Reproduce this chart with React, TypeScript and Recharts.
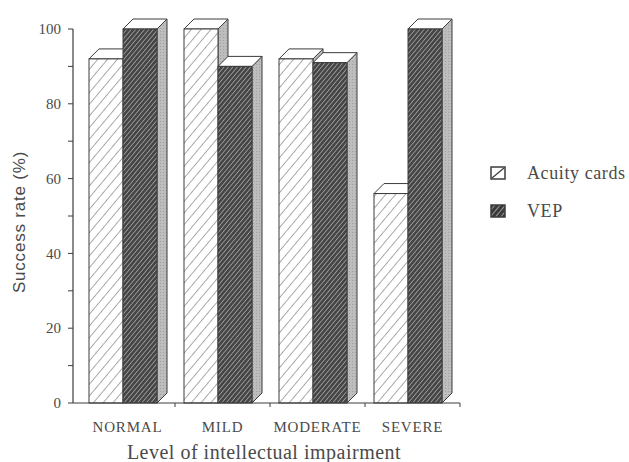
import { Bar, BarChart, XAxis, YAxis } from "recharts";

const levels = ["NORMAL", "MILD", "MODERATE", "SEVERE"];
const acuityCards = [92, 100, 92, 56];
const vep = [100, 90, 91, 100];
const yTicks = [0, 10, 20, 30, 40, 50, 60, 70, 80, 90, 100];
const yLabelled = [0, 20, 40, 60, 80, 100];

const data = levels.map((level, i) => ({ level, acuity: acuityCards[i], vep: vep[i] }));

const INK = "#3c3c3c";
const TEXT = "#4a4a4a";
const DEPTH = 10;

// front face + top + side, group nudged left so the block (with depth) sits centred in the band
function Block(props: any) {
  const { x, y, width, height, fill } = props;
  if (width == null || height == null) return null;
  const x0 = x - DEPTH / 2;
  const d = DEPTH;
  const top = `${x0},${y} ${x0 + d},${y - d} ${x0 + width + d},${y - d} ${x0 + width},${y}`;
  const side = `${x0 + width},${y} ${x0 + width + d},${y - d} ${x0 + width + d},${y + height - d} ${x0 + width},${y + height}`;
  return (
    <g>
      <polygon points={side} fill="url(#sideShade)" stroke={INK} strokeWidth={1} strokeLinejoin="round" />
      <polygon points={top} fill="#fff" stroke={INK} strokeWidth={1} strokeLinejoin="round" />
      <rect x={x0} y={y} width={width} height={height} fill={fill} stroke={INK} strokeWidth={1} />
    </g>
  );
}

function YTick(props: any) {
  const { x, y, payload } = props;
  if (!yLabelled.includes(payload.value)) return null;
  return (
    <text x={x - 1} y={y} dy="0.35em" textAnchor="end" fill={TEXT} fontSize={15} fontFamily="'Liberation Serif', serif">
      {payload.value}
    </text>
  );
}

function XTick(props: any) {
  const { x, y, payload } = props;
  const axisY = y - 4;
  const edge = x + (payload.offset ?? 0);
  return (
    <g>
      <line x1={edge} y1={axisY} x2={edge} y2={axisY + 4} stroke={INK} strokeWidth={1} />
      <text x={x} y={axisY + 29} textAnchor="middle" fill={TEXT} fontSize={15} letterSpacing={0.8} fontFamily="'Liberation Serif', serif">
        {payload.value}
      </text>
    </g>
  );
}

function LegendIcon({ dark }: { dark: boolean }) {
  return (
    <svg width={16} height={14} style={{ display: "block" }}>
      <defs>
        <pattern id={dark ? "legDark" : "legLight"} patternUnits="userSpaceOnUse" width={4} height={4} patternTransform="rotate(40)">
          <rect width={4} height={4} fill={dark ? "#3a3a3a" : "#fff"} />
          {dark && <line x1={0} y1={0} x2={0} y2={4} stroke="#d8d8d8" strokeWidth={1.2} />}
        </pattern>
      </defs>
      <rect x={1} y={1} width={14} height={12} fill={`url(#${dark ? "legDark" : "legLight"})`} stroke={INK} strokeWidth={1.5} />
      {!dark && <line x1={2} y1={12} x2={14} y2={2} stroke={INK} strokeWidth={1.2} />}
    </svg>
  );
}

export default function App() {
  return (
    <div style={{ position: "absolute", left: 0, top: 0, width: 629, height: 462, background: "#fff" }}>
      <BarChart
        width={629}
        height={462}
        data={data}
        margin={{ top: 29, right: 169, bottom: 29, left: 0 }}
        barGap={0}
        barSize={34}
      >
        <defs>
          <pattern id="hatchLight" patternUnits="userSpaceOnUse" width={7.5} height={7.5} patternTransform="rotate(40)">
            <rect width={7.5} height={7.5} fill="#fff" />
            <line x1={0} y1={0} x2={0} y2={7.5} stroke="#555" strokeWidth={1} />
          </pattern>
          <pattern id="hatchDark" patternUnits="userSpaceOnUse" width={3.4} height={3.4} patternTransform="rotate(40)">
            <rect width={3.4} height={3.4} fill="#454545" />
            <line x1={0} y1={0} x2={0} y2={3.4} stroke="#d0d0d0" strokeWidth={1.1} />
          </pattern>
          <pattern id="sideShade" patternUnits="userSpaceOnUse" width={3} height={3}>
            <rect width={3} height={3} fill="#bdbdbd" />
            <rect x={1} y={1} width={1} height={1} fill="#a0a0a0" />
          </pattern>
        </defs>
        <XAxis
          dataKey="level"
          interval={0}
          height={30}
          padding={{ left: 7, right: 0 }}
          tickLine={false}
          tickSize={4}
          tickMargin={0}
          axisLine={{ stroke: INK, strokeWidth: 1.2 }}
          tick={<XTick />}
        />
        <YAxis
          type="number"
          domain={[0, 100]}
          ticks={yTicks}
          interval={0}
          width={73}
          tickSize={5}
          tickMargin={6}
          axisLine={{ stroke: INK, strokeWidth: 1.2 }}
          tickLine={{ stroke: INK }}
          tick={<YTick />}
        />
        <Bar dataKey="acuity" fill="url(#hatchLight)" shape={<Block />} isAnimationActive={false} />
        <Bar dataKey="vep" fill="url(#hatchDark)" shape={<Block />} isAnimationActive={false} />
      </BarChart>

      <div
        style={{
          position: "absolute",
          left: 20,
          top: 222,
          transform: "translate(-50%, -50%) rotate(-90deg)",
          whiteSpace: "nowrap",
          fontFamily: "'Liberation Sans', sans-serif",
          fontSize: 17,
          letterSpacing: 0.8,
          color: TEXT,
        }}
      >
        Success rate (%)
      </div>
      <div
        style={{
          position: "absolute",
          left: 264,
          top: 452,
          transform: "translate(-50%, -50%)",
          whiteSpace: "nowrap",
          fontFamily: "'Liberation Serif', serif",
          fontSize: 20,
          letterSpacing: 0.5,
          color: TEXT,
        }}
      >
        Level of intellectual impairment
      </div>

      <div style={{ position: "absolute", left: 490, top: 162, fontFamily: "'Liberation Serif', serif", fontSize: 18, letterSpacing: 0.6, color: TEXT }}>
        <div style={{ display: "flex", alignItems: "center", gap: 21, height: 22 }}>
          <LegendIcon dark={false} />
          <span>Acuity cards</span>
        </div>
        <div style={{ display: "flex", alignItems: "center", gap: 21, height: 22, marginTop: 16 }}>
          <LegendIcon dark={true} />
          <span>VEP</span>
        </div>
      </div>
    </div>
  );
}
